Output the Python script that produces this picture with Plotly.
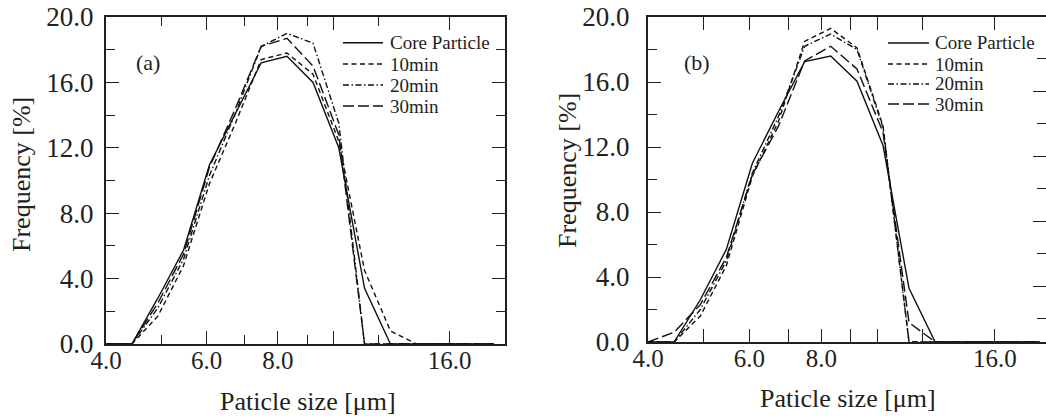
import math
import plotly.graph_objects as go

# Particle size bins [um] (log-spaced)
size_um = [4.00, 4.44, 4.93, 5.47, 6.07, 6.74, 7.48, 8.30, 9.22, 10.23,
           11.35, 12.60, 13.99, 15.53, 17.23, 19.13]

series_names = ["Core Particle", "10min", "20min", "30min"]

# Panel (a) frequency [%]
core_a  = [0, 0, 2.8, 5.75, 10.95, 14.1, 17.2, 17.6, 16.0, 12.0, 3.4, 0, 0, 0, 0, 0]
min10_a = [0, 0, 1.7, 4.8, 9.8, 13.5, 17.4, 17.8, 16.5, 12.4, 4.5, 0.8, 0, 0, 0, 0]
min20_a = [0, 0, 2.2, 5.2, 10.3, 14.1, 18.2, 19.0, 18.4, 13.5, 0, 0, 0, 0, 0, 0]
min30_a = [0, 0, 2.5, 5.5, 10.8, 14.4, 18.2, 18.7, 17.0, 12.8, 0, 0, 0, 0, 0, 0]

# Panel (b) frequency [%]
core_b  = [0, 0, 2.6, 5.7, 11.0, 14.2, 17.25, 17.6, 16.05, 12.1, 3.3, 0, 0, 0, 0, 0]
min10_b = [0, 0, 1.6, 4.7, 10.2, 13.6, 18.5, 19.3, 18.1, 13.3, 0, 0, 0, 0, 0, 0]
min20_b = [0, 0, 2.0, 5.0, 10.4, 13.9, 18.2, 18.95, 18.0, 13.2, 0, 0, 0, 0, 0, 0]
min30_b = [0, 0.6, 2.3, 5.2, 10.3, 13.3, 17.3, 18.2, 16.8, 12.9, 1.2, 0, 0, 0, 0, 0]

x_tickvals = [4, 6, 8, 10, 16]
x_ticktext = ["4.0", "6.0", "8.0", "", "16.0"]
x_minor = [5, 7, 9, 12]
y_tickvals = [0, 4, 8, 12, 16, 20]
y_minor = [2, 6, 10, 14, 18]

W, H = 1046, 416
FONT = "Liberation Serif, Times New Roman, serif"
INK = "#231f20"
DASHES = ["solid", "5px,3.5px", "6px,2.5px,1.5px,2.5px", "11px,4px"]


def px_x(p):
    return p / W


def px_y(p):
    return 1 - p / H


fig = go.Figure()

panels = [
    ("x", "y", [core_a, min10_a, min20_a, min30_a]),
    ("x2", "y2", [core_b, min10_b, min20_b, min30_b]),
]
for xa, ya, data in panels:
    for name, vals, dash in zip(series_names, data, DASHES):
        fig.add_trace(go.Scatter(
            x=size_um, y=vals, name=name, mode="lines",
            line=dict(color="#111111", width=1.4, dash=dash),
            xaxis=xa, yaxis=ya, showlegend=False,
        ))

# carrier trace for the offset tick axis on the right of panel (b)
fig.add_trace(go.Scatter(x=[], y=[], xaxis="x2", yaxis="y3", showlegend=False))


def xaxis_cfg(domain, rng):
    return dict(
        type="log", domain=domain, range=rng, automargin=False,
        tickmode="array", tickvals=x_tickvals, ticktext=x_ticktext,
        ticks="inside", ticklen=13, tickwidth=1.3, tickcolor=INK,
        minor=dict(tickmode="array", tickvals=x_minor, ticks="inside",
                   ticklen=9, tickwidth=1.3, tickcolor=INK),
        showline=True, linewidth=2, linecolor=INK, mirror="allticks",
        showgrid=False, zeroline=False,
        tickfont=dict(family=FONT, size=25, color=INK),
        ticklabelstandoff=-7,
    )


def yaxis_cfg(domain, anchor, mirror, standoff):
    return dict(
        domain=domain, range=[0, 20], anchor=anchor, automargin=False,
        tickmode="array", tickvals=y_tickvals, tickformat=".1f",
        ticks="inside", ticklen=13, tickwidth=1.3, tickcolor=INK,
        minor=dict(tickmode="array", tickvals=y_minor, ticks="inside",
                   ticklen=9, tickwidth=1.3, tickcolor=INK),
        showline=True, linewidth=2, linecolor=INK, mirror=mirror,
        showgrid=False, zeroline=False,
        tickfont=dict(family=FONT, size=27, color=INK),
        ticklabelstandoff=standoff,
    )


fig.update_layout(
    width=W, height=H, autosize=False,
    margin=dict(l=0, r=0, t=0, b=0, pad=0, autoexpand=False),
    paper_bgcolor="white", plot_bgcolor="white",
    font=dict(family=FONT, color=INK),
    xaxis=xaxis_cfg([px_x(106), px_x(505)], [math.log10(4), math.log10(20)]) | dict(anchor="y"),
    yaxis=yaxis_cfg([px_y(344), px_y(17)], "x", "allticks", 5),
    xaxis2=xaxis_cfg([px_x(648), 1.0], [math.log10(4), math.log10(19.62)]) | dict(anchor="y2"),
    yaxis2=yaxis_cfg([px_y(342), px_y(17)], "x2", False, 11),
    yaxis3=dict(
        overlaying="y2", side="right", anchor="x2", range=[0.554, 20.554],
        automargin=False,
        tickmode="array", tickvals=[4, 8, 12, 16],
        ticks="inside", ticklen=13, tickwidth=1.3, tickcolor=INK,
        minor=dict(tickmode="array", tickvals=[2, 6, 10, 14, 18], ticks="inside",
                   ticklen=9, tickwidth=1.3, tickcolor=INK),
        showticklabels=False, showline=False, showgrid=False, zeroline=False,
    ),
)

annotations = []
title_font = dict(family=FONT, size=26, color=INK)
# axis titles
for cx, cy in [(22, 175), (567, 171)]:
    annotations.append(dict(text="Frequency [%]", x=px_x(cx), y=px_y(cy),
                            xref="paper", yref="paper", showarrow=False,
                            textangle=-90, font=title_font,
                            xanchor="center", yanchor="middle"))
for cx, cy in [(308, 401), (848, 398)]:
    annotations.append(dict(text="Paticle size [μm]", x=px_x(cx), y=px_y(cy),
                            xref="paper", yref="paper", showarrow=False,
                            font=title_font, xanchor="center", yanchor="middle"))
# panel labels
for txt, cx in [("(a)", 148), ("(b)", 697)]:
    annotations.append(dict(text=txt, x=px_x(cx), y=px_y(62), xref="paper",
                            yref="paper", showarrow=False,
                            font=dict(family=FONT, size=22, color=INK),
                            xanchor="center", yanchor="middle"))

# legend keys: line sample + label, one block per panel
shapes = []
legend_blocks = [
    (343, 383, 388, [42.7, 64, 85, 106]),
    (888, 929, 933, [43, 64, 84, 104]),
]
for x0, x1, tx, rows in legend_blocks:
    for name, dash, ry in zip(series_names, DASHES, rows):
        shapes.append(dict(type="line", xref="paper", yref="paper",
                           x0=px_x(x0), x1=px_x(x1), y0=px_y(ry), y1=px_y(ry),
                           line=dict(color="#111111", width=1.4, dash=dash)))
        annotations.append(dict(text=name, x=px_x(tx), y=px_y(ry), xref="paper",
                                yref="paper", showarrow=False,
                                font=dict(family=FONT, size=19, color=INK),
                                xanchor="left", yanchor="middle"))

fig.update_layout(annotations=annotations, shapes=shapes)
fig.write_html("out.html")
